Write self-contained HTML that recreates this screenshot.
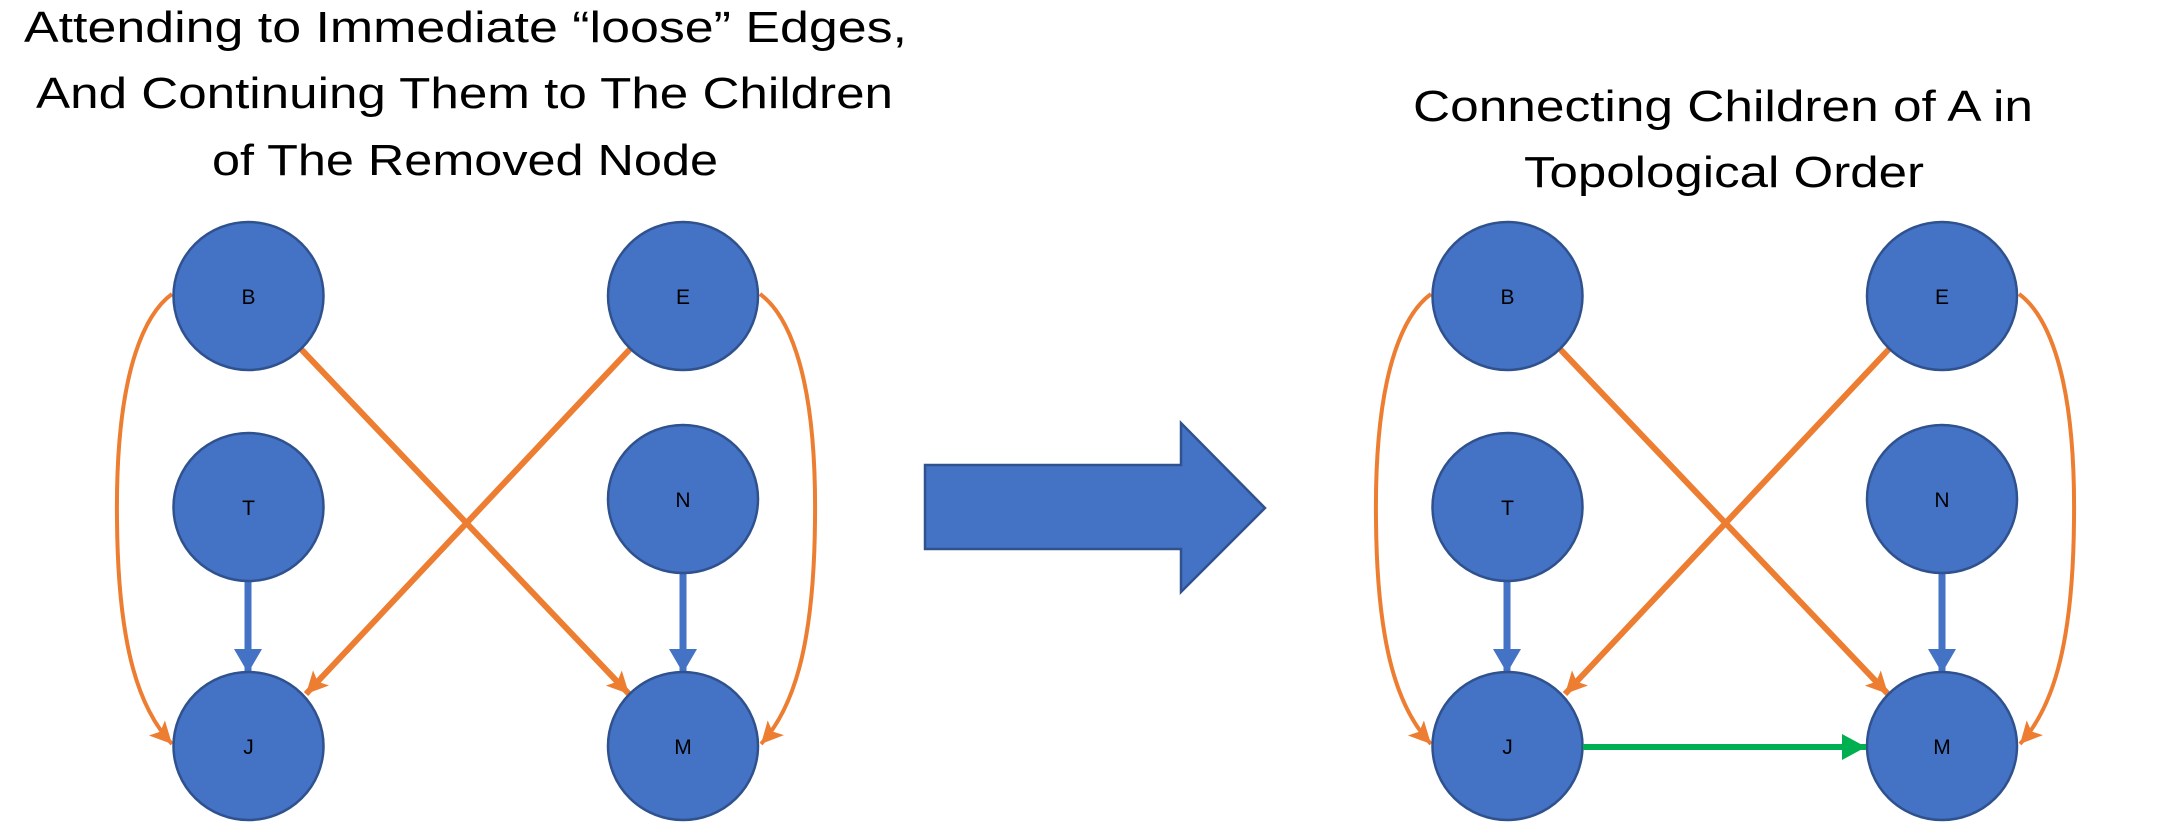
<!DOCTYPE html>
<html><head><meta charset="utf-8"><style>html,body{margin:0;padding:0;background:#fff}svg{display:block}</style></head>
<body>
<svg width="2181" height="834" viewBox="0 0 2181 834" xmlns="http://www.w3.org/2000/svg">
<defs>
<marker id="ao" markerUnits="userSpaceOnUse" markerWidth="30" markerHeight="30" refX="22" refY="11" orient="auto"><path d="M0,0 L22,11 L0,22 L5,11 Z" fill="#ED7D31"/></marker>
<marker id="ab" markerUnits="userSpaceOnUse" markerWidth="30" markerHeight="30" refX="24" refY="14" orient="auto"><path d="M0,0 L24,14 L0,28 Z" fill="#4472C4"/></marker>
<marker id="ag" markerUnits="userSpaceOnUse" markerWidth="30" markerHeight="30" refX="24" refY="13" orient="auto"><path d="M0,0 L24,13 L0,26 Z" fill="#00B050"/></marker>
<g id="panel">
<path d="M172,294 C150,310 115,360 117,520 C118,650 140,710 172,744" fill="none" stroke="#ED7D31" stroke-width="4" marker-end="url(#ao)"/>
<path d="M760,294 C782,310 817,360 815,520 C814,650 792,710 761,744" fill="none" stroke="#ED7D31" stroke-width="4" marker-end="url(#ao)"/>
<line x1="300" y1="348" x2="629" y2="694" stroke="#ED7D31" stroke-width="6" marker-end="url(#ao)"/>
<line x1="631" y1="348" x2="306" y2="694" stroke="#ED7D31" stroke-width="6" marker-end="url(#ao)"/>
<line x1="248" y1="582" x2="248" y2="673" stroke="#4472C4" stroke-width="7" marker-end="url(#ab)"/>
<line x1="683" y1="574" x2="683" y2="673" stroke="#4472C4" stroke-width="7" marker-end="url(#ab)"/>
<g fill="#4472C4" stroke="#2F528F" stroke-width="2.5">
<ellipse cx="248.5" cy="296" rx="75" ry="74"/>
<ellipse cx="683" cy="296" rx="75" ry="74"/>
<ellipse cx="248.5" cy="507" rx="75" ry="74"/>
<ellipse cx="683" cy="499" rx="75" ry="74"/>
<ellipse cx="248.5" cy="746" rx="75" ry="74"/>
<ellipse cx="683" cy="746" rx="75" ry="74"/>
</g>
<g font-family="Liberation Sans, sans-serif" font-size="21" text-anchor="middle" fill="#000">
<text x="248.5" y="304">B</text>
<text x="683" y="304">E</text>
<text x="248.5" y="515">T</text>
<text x="683" y="507">N</text>
<text x="248.5" y="754">J</text>
<text x="683" y="754">M</text>
</g>
</g>
</defs>
<use href="#panel"/>
<use href="#panel" transform="translate(1259,0)"/>
<line x1="1583" y1="747" x2="1866" y2="747" stroke="#00B050" stroke-width="6" marker-end="url(#ag)"/>
<path d="M925,465 L1181,465 L1181,423 L1265,508 L1181,592 L1181,549 L925,549 Z" fill="#4472C4" stroke="#2F528F" stroke-width="2.5"/>
<g font-family="Liberation Sans, sans-serif" font-size="44" fill="#000">
<text x="24" y="42" textLength="883" lengthAdjust="spacingAndGlyphs">Attending to Immediate “loose” Edges,</text>
<text x="36" y="108" textLength="857" lengthAdjust="spacingAndGlyphs">And Continuing Them to The Children</text>
<text x="212" y="175" textLength="506" lengthAdjust="spacingAndGlyphs">of The Removed Node</text>
<text x="1413" y="121" textLength="620" lengthAdjust="spacingAndGlyphs">Connecting Children of A in</text>
<text x="1524" y="187" textLength="400" lengthAdjust="spacingAndGlyphs">Topological Order</text>
</g>
</svg>
</body></html>
